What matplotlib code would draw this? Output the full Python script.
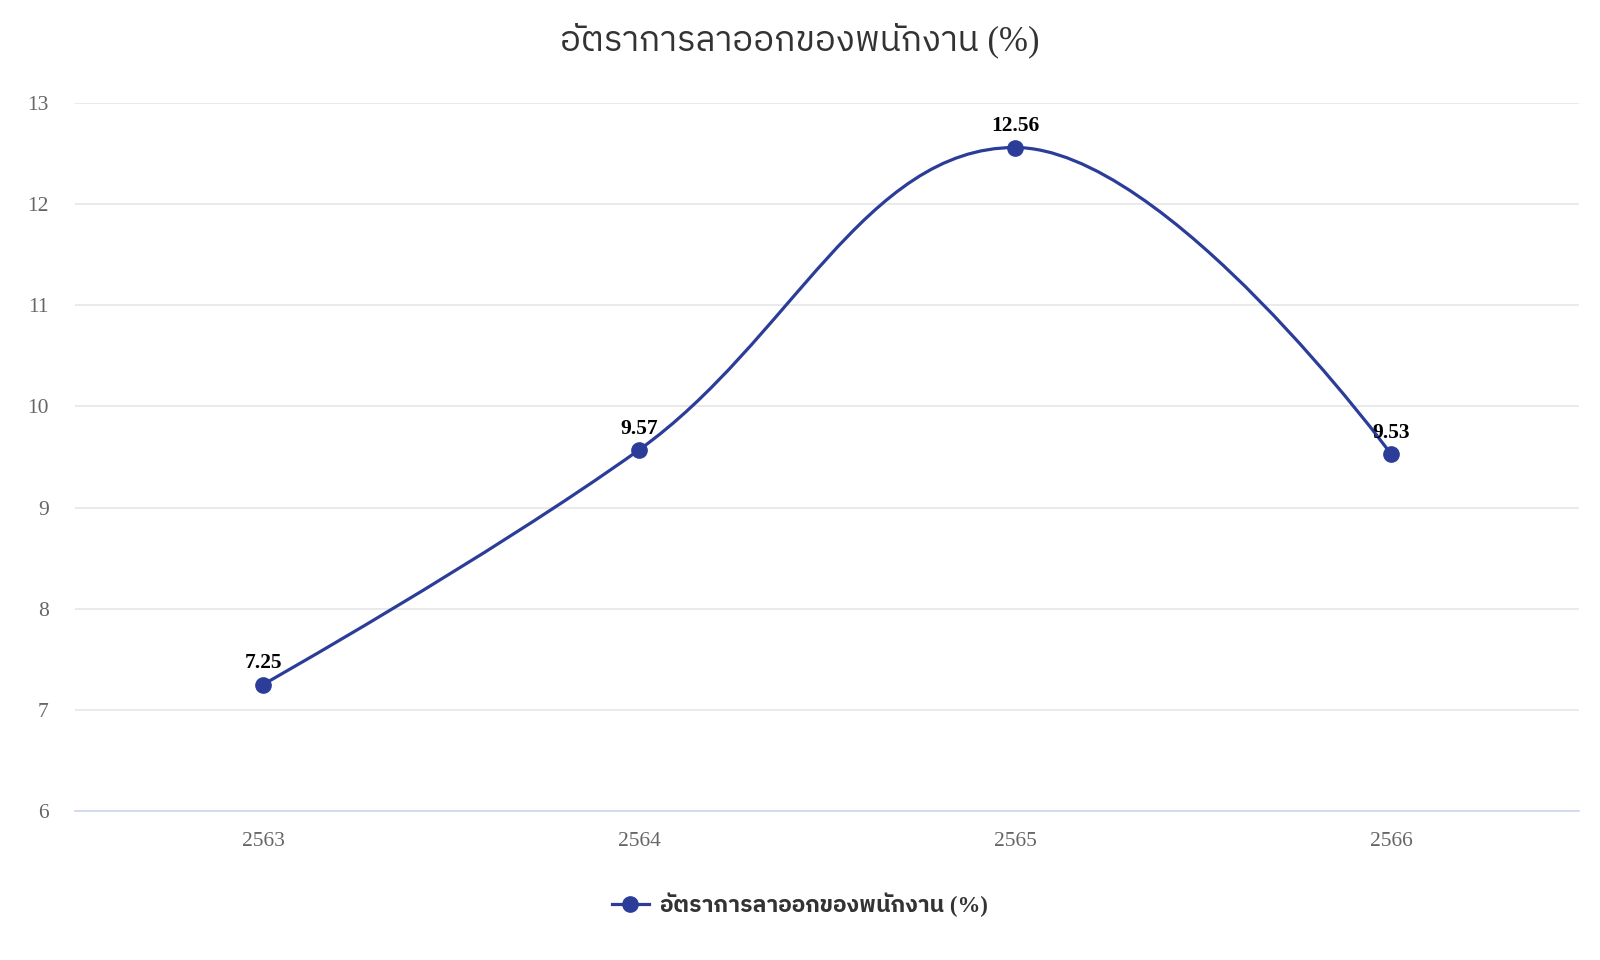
import matplotlib
matplotlib.use("Agg")
import matplotlib.pyplot as plt
from matplotlib import font_manager
from matplotlib.ft2font import FT2Font
from matplotlib.path import Path
from matplotlib.patches import PathPatch
from matplotlib.lines import Line2D

title = "อัตราการลาออกของพนักงาน (%)"
series_name = "อัตราการลาออกของพนักงาน (%)"
categories = ["2563", "2564", "2565", "2566"]
values = [7.25, 9.57, 12.56, 9.53]
y_ticks = [6, 7, 8, 9, 10, 11, 12, 13]

# find a font with Thai glyphs
cands = []
for f in font_manager.fontManager.ttflist:
    try:
        cm = FT2Font(f.fname).get_charmap()
    except Exception:
        continue
    if 0x0E2D in cm and 0x0E31 in cm:
        cands.append(f.name)
pref = [c for c in cands if "Thai" in c] + cands
thai_font = pref[0] if pref else "DejaVu Sans"
serif = "Liberation Serif"
mixed_family = [serif, thai_font, "DejaVu Sans"]

LINE = "#2b3d98"

fig = plt.figure(figsize=(16, 9.6), dpi=100)
ax = fig.add_axes([75 / 1600, 1 - 811 / 960, (1579 - 75) / 1600, (811 - 103) / 960])

# Highcharts-like spline
xs = list(range(len(values)))
ys = values
sm = 1.5
den = sm + 1
rc = [None] * len(xs)
verts = [(xs[0], ys[0])]
codes = [Path.MOVETO]
for i in range(1, len(xs)):
    px, py = xs[i], ys[i]
    lcx, lcy = px, py
    if i < len(xs) - 1:
        lx, ly = xs[i - 1], ys[i - 1]
        nx, ny = xs[i + 1], ys[i + 1]
        lcx = (sm * px + lx) / den
        lcy = (sm * py + ly) / den
        rcx = (sm * px + nx) / den
        rcy = (sm * py + ny) / den
        corr = 0
        if rcx != lcx:
            corr = (rcy - lcy) * (rcx - px) / (rcx - lcx) + py - rcy
        lcy += corr
        rcy += corr
        if lcy > ly and lcy > py:
            lcy = max(ly, py); rcy = 2 * py - lcy
        elif lcy < ly and lcy < py:
            lcy = min(ly, py); rcy = 2 * py - lcy
        if rcy > ny and rcy > py:
            rcy = max(ny, py); lcy = 2 * py - rcy
        elif rcy < ny and rcy < py:
            rcy = min(ny, py); lcy = 2 * py - rcy
        rc[i] = (rcx, rcy)
    prev = rc[i - 1] if rc[i - 1] is not None else (xs[i - 1], ys[i - 1])
    verts += [prev, (lcx, lcy), (px, py)]
    codes += [Path.CURVE4] * 3

ax.add_patch(PathPatch(Path(verts, codes), facecolor="none", edgecolor=LINE, lw=2.3, zorder=3, capstyle="round"))
ax.plot(xs, ys, linestyle="none", marker="o", markersize=11, color=LINE, zorder=4)

for x, y in zip(xs, ys):
    ax.annotate(f"{y:.2f}", (x, y), xytext=(0, 8), textcoords="offset points",
                ha="center", va="bottom", fontsize=15.5, fontweight="bold",
                family=serif, color="#000000", zorder=5)

ax.set_xlim(-0.5, 3.5)
ax.set_ylim(6, 13)
ax.set_yticks(y_ticks)
ax.set_xticks(xs)
ax.set_xticklabels(categories)
for lab in ax.get_xticklabels() + ax.get_yticklabels():
    lab.set_family(serif)
    lab.set_fontsize(15.5)
    lab.set_color("#666666")
ax.tick_params(axis="both", length=0)
ax.tick_params(axis="y", pad=19)
ax.tick_params(axis="x", pad=15)
ax.grid(axis="y", color="#e6e6e6", lw=1.2)
ax.set_axisbelow(True)
for s in ["top", "right", "left"]:
    ax.spines[s].set_visible(False)
ax.spines["bottom"].set_color("#ccd6eb")
ax.spines["bottom"].set_linewidth(1.2)
ax.spines["bottom"].set_zorder(2)

fig.text(0.5, 1 - 40 / 960, title, ha="center", va="center", fontsize=25,
         family=mixed_family, color="#333333")

handle = Line2D([0], [0], color=LINE, lw=2.3, marker="o", markersize=11)
leg = fig.legend([handle], [series_name], loc="center", bbox_to_anchor=(0.5, 1 - 905 / 960),
                 frameon=False, handlelength=1.6, handletextpad=0.5,
                 prop={"family": mixed_family, "size": 16.5, "weight": "bold"})
for t in leg.get_texts():
    t.set_color("#333333")

fig.savefig("out.png", dpi=100)
